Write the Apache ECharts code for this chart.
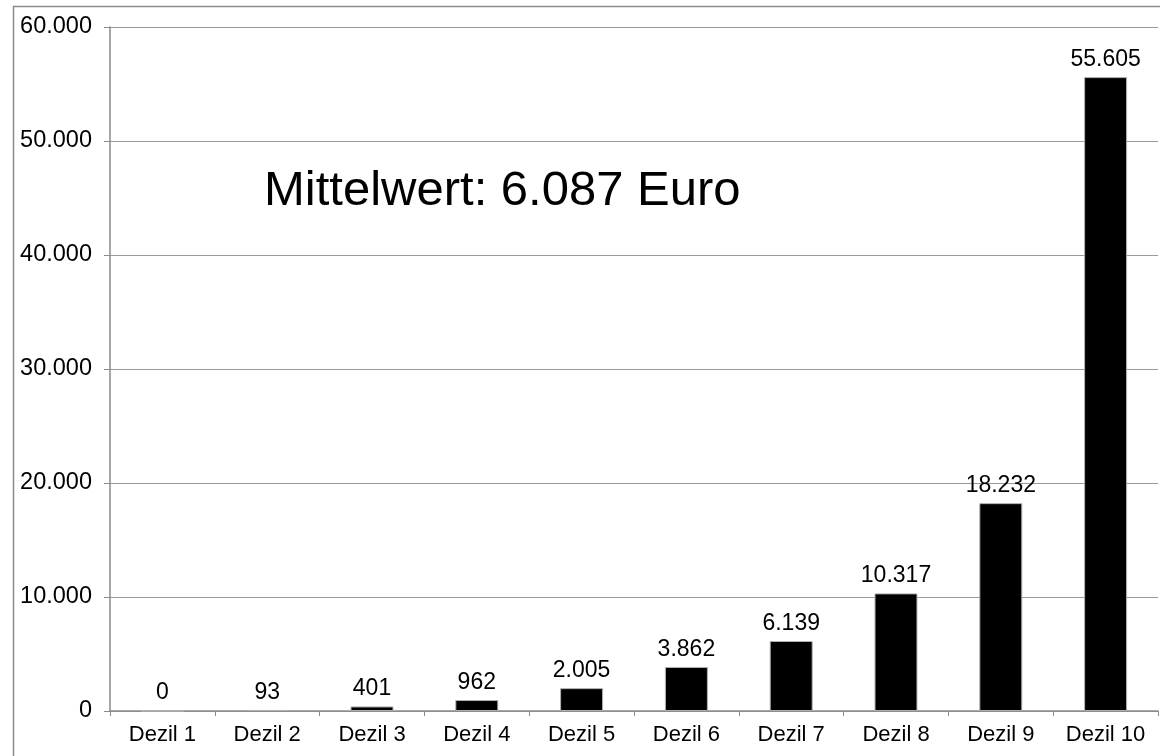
<!DOCTYPE html>
<html><head><meta charset="utf-8">
<script src="https://cdn.jsdelivr.net/npm/echarts@6/dist/echarts.min.js"></script>
<style>html,body{margin:0;padding:0;background:#fff}#c{width:1160px;height:756px}</style>
</head><body><div id="c"></div>
<script>
var categories = ['Dezil 1','Dezil 2','Dezil 3','Dezil 4','Dezil 5','Dezil 6','Dezil 7','Dezil 8','Dezil 9','Dezil 10'];
var values = [0, 93, 401, 962, 2005, 3862, 6139, 10317, 18232, 55605];
var yTicks = [0, 10000, 20000, 30000, 40000, 50000, 60000];
var titleText = 'Mittelwert: 6.087 Euro';

function fmt(v){ return String(v).replace(/\B(?=(\d{3})+(?!\d))/g, '.'); }
var FONT = '"Liberation Sans", Arial, sans-serif';
var chart = echarts.init(document.getElementById('c'), null, {renderer:'canvas'});
chart.setOption({
  animation:false,
  backgroundColor:'#fff',
  textStyle:{fontFamily:FONT},
  graphic:[{type:'rect', silent:true, z:-10, shape:{x:13.5,y:6.5,width:1300,height:900}, style:{fill:'#fff', stroke:'#8c8c8c', lineWidth:1.5}}],
  title:{text:titleText, left:259, top:162, textStyle:{fontFamily:FONT, fontSize:49, fontWeight:'normal', color:'#000'}},
  grid:{left:110, top:27, width:1048, height:684, containLabel:false},
  xAxis:{type:'category', data:categories,
    axisLine:{lineStyle:{color:'#8a8a8a', width:1.5}},
    axisTick:{show:true, length:5, lineStyle:{color:'#8a8a8a'}},
    axisLabel:{color:'#000', fontFamily:FONT, fontSize:22, margin:13}},
  yAxis:{type:'value', min:yTicks[0], max:yTicks[yTicks.length-1], interval:yTicks[1]-yTicks[0],
    axisLine:{show:true, lineStyle:{color:'#8a8a8a', width:1.5}},
    axisTick:{show:true, length:6, lineStyle:{color:'#8a8a8a'}},
    splitLine:{lineStyle:{color:'#999', width:1}},
    axisLabel:{color:'#000', fontFamily:FONT, fontSize:23.5, margin:18, formatter:function(v){return fmt(v);}}},
  series:[{type:'bar', data:values, barWidth:'41%',
    itemStyle:{color:'#000', borderColor:'#b0b0b0', borderWidth:1},
    label:{show:true, position:'top', distance:6, color:'#000', fontFamily:FONT, fontSize:23, formatter:function(p){return fmt(p.value);}}}]
});
</script></body></html>
